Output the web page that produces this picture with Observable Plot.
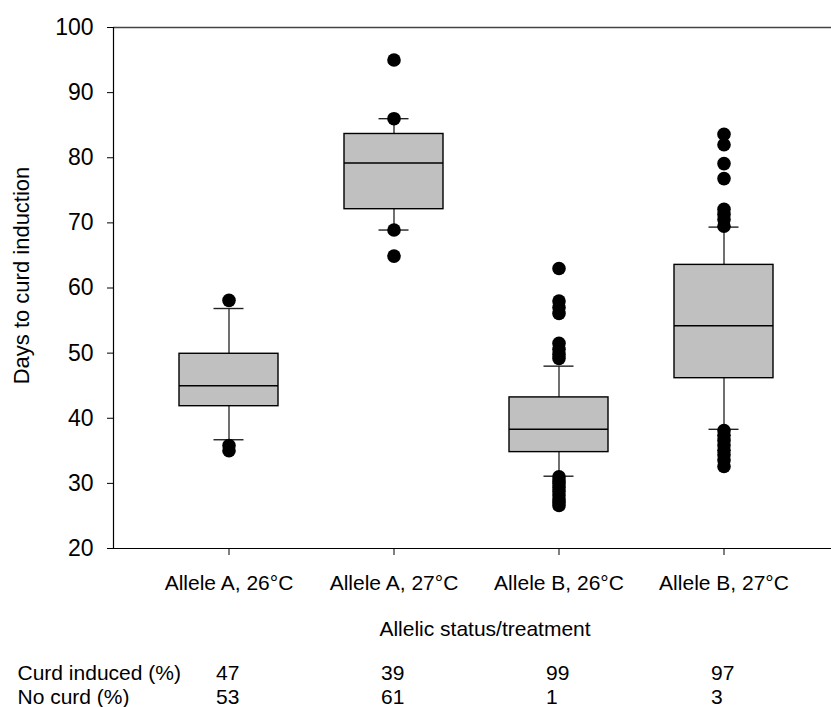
<!DOCTYPE html>
<html><head><meta charset="utf-8">
<script src="https://cdn.jsdelivr.net/npm/d3@7"></script>
<script src="https://cdn.jsdelivr.net/npm/@observablehq/plot@0.6"></script>
<style>html,body{margin:0;padding:0;background:#fff;overflow:hidden} svg{display:block}</style>
</head><body><div id="chart"></div>
<script>
const categories = ["Allele A, 26°C", "Allele A, 27°C", "Allele B, 26°C", "Allele B, 27°C"];
const q1 = [41.85, 72.1, 34.8, 46.15];
const medians = [45.0, 79.2, 38.3, 54.2];
const q3 = [49.9, 83.65, 43.2, 63.55];
const whiskerLow = [36.7, 68.9, 31.1, 38.3];
const whiskerHigh = [56.85, 86.0, 48.0, 69.35];
const outliersA26 = [58.1, 35.8, 35.0];
const outliersA27 = [95.0, 86.0, 68.9, 64.9];
const outliersB26 = [63.0, 58.0, 57.0, 56.1, 51.5, 50.6, 49.8, 49.2, 31.0, 30.5, 30.0, 29.4, 28.8, 28.2, 27.6, 27.1, 26.6];
const outliersB27 = [83.6, 82.0, 79.1, 76.8, 72.1, 71.3, 70.5, 69.5, 38.1, 37.4, 36.6, 35.9, 35.1, 34.4, 33.6, 32.6];
const curdInduced = [47, 39, 99, 97];
const noCurd = [53, 61, 1, 3];
const yTicks = [20, 30, 40, 50, 60, 70, 80, 90, 100];
const yTitle = "Days to curd induction";
const xTitle = "Allelic status/treatment";
const rowLabels = ["Curd induced (%)", "No curd (%)"];

const boxes = categories.map((c, i) => ({category: c, q1: q1[i], median: medians[i], q3: q3[i], lo: whiskerLow[i], hi: whiskerHigh[i]}));
const outlierLists = [outliersA26, outliersA27, outliersB26, outliersB27];
const outliers = categories.flatMap((c, i) => outlierLists[i].map(v => ({category: c, value: v})));
const table = categories.map((c, i) => ({category: c, curd: curdInduced[i], none: noCurd[i]}));

const W = 831, ML = 113, MR = 0;
const fs = 21;
const chart = Plot.plot({
  width: W, height: 707,
  marginLeft: ML, marginRight: MR, marginTop: 27, marginBottom: 159,
  style: {fontFamily: '"Liberation Sans", Arial, Helvetica, sans-serif', color: "black", background: "white"},
  x: {type: "band", domain: categories, range: [113, 839], padding: 0.4, align: 0.5},
  y: {domain: [20, 100]},
  marks: [
    Plot.ruleY([100], {stroke: "#444", strokeWidth: 1.6}),
    Plot.ruleY([20], {stroke: "black", strokeWidth: 1.2}),
    // left axis line: a frame-spanning vertical rule moved from the frame centre to its left edge
    Plot.ruleX([0], {x: null, dx: -((W - ML - MR) / 2), stroke: "black", strokeWidth: 1.2}),
    Plot.axisY({ticks: yTicks, tickSize: 6, tickPadding: 14, fontSize: 23, label: null, tickFormat: d => String(d)}),
    Plot.axisX({tickSize: 7, tickPadding: 20, fontSize: fs, label: null}),
    Plot.ruleX(boxes, {x: "category", y1: "q3", y2: "hi", stroke: "#333", strokeWidth: 1.4}),
    Plot.ruleX(boxes, {x: "category", y1: "q1", y2: "lo", stroke: "#333", strokeWidth: 1.4}),
    Plot.tickY(boxes, {x: "category", y: "hi", insetLeft: 34.5, insetRight: 34.5, stroke: "#222", strokeWidth: 1.4}),
    Plot.tickY(boxes, {x: "category", y: "lo", insetLeft: 34.5, insetRight: 34.5, stroke: "#222", strokeWidth: 1.4}),
    Plot.barY(boxes, {x: "category", y1: "q1", y2: "q3", fill: "#c0c0c0", stroke: "black", strokeWidth: 1.4}),
    Plot.tickY(boxes, {x: "category", y: "median", stroke: "black", strokeWidth: 1.4}),
    Plot.dot(outliers, {x: "category", y: "value", r: 6.8, fill: "black", stroke: "none"}),
    Plot.text([yTitle], {text: d => d, frameAnchor: "left", textAnchor: "middle", rotate: -90, dx: -85, dy: -12.5, lineAnchor: "bottom", fontSize: 22}),
    Plot.text([xTitle], {text: d => d, frameAnchor: "bottom", textAnchor: "middle", dx: 12.5, dy: 87, lineAnchor: "bottom", fontSize: fs}),
    Plot.text([rowLabels[0]], {text: d => d, frameAnchor: "bottom-left", dx: -96, dy: 131, textAnchor: "start", lineAnchor: "bottom", fontSize: fs}),
    Plot.text([rowLabels[1]], {text: d => d, frameAnchor: "bottom-left", dx: -96, dy: 155, textAnchor: "start", lineAnchor: "bottom", fontSize: fs}),
    Plot.text(table, {x: "category", text: d => String(d.curd), frameAnchor: "bottom", dx: -13, dy: 131, textAnchor: "start", lineAnchor: "bottom", fontSize: fs}),
    Plot.text(table, {x: "category", text: d => String(d.none), frameAnchor: "bottom", dx: -13, dy: 155, textAnchor: "start", lineAnchor: "bottom", fontSize: fs})
  ]
});
document.getElementById("chart").appendChild(chart);
</script>
</body></html>
